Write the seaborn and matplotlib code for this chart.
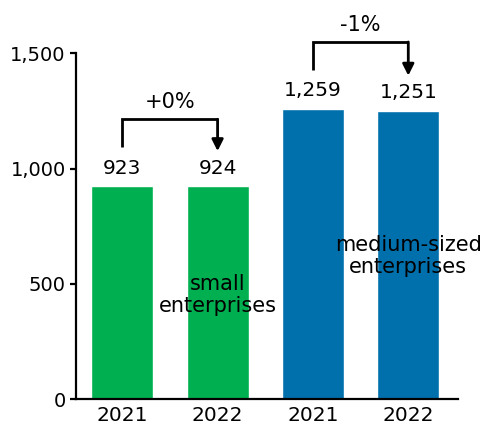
import matplotlib
matplotlib.use('Agg')
import matplotlib.pyplot as plt
import pandas as pd
import seaborn as sns
from matplotlib.ticker import FuncFormatter

# data
groups = ['small', 'small', 'medium', 'medium']
years = ['2021', '2022', '2021', '2022']
values = [923, 924, 1259, 1251]
changes = ['+0%', '-1%']
group_labels = ['small\nenterprises', 'medium-sized\nenterprises']
colors = ['#00B050', '#0070AD']

df = pd.DataFrame({'bar': range(len(values)), 'group': groups, 'year': years, 'value': values})

sns.set_style('white')
plt.rcParams['font.family'] = ['DejaVu Sans']
plt.rcParams['text.color'] = 'black'
plt.rcParams['xtick.color'] = 'black'
plt.rcParams['ytick.color'] = 'black'

fig = plt.figure(figsize=(4.84, 4.26), dpi=100)
ax = fig.add_axes([0.156, 0.0627, 0.79, 0.9373])

sns.barplot(data=df, x='bar', y='value', hue='group', palette=colors, width=0.65,
            dodge=False, legend=False, saturation=1, ax=ax)

ax.set_xlim(-0.49, 3.52)
ax.set_ylim(0, 1731)
ax.set_xlabel('')
ax.set_ylabel('')

# axes styling
for s in ['top', 'right']:
    ax.spines[s].set_visible(False)
for s in ['left', 'bottom']:
    ax.spines[s].set_linewidth(1.6)
    ax.spines[s].set_color('black')
ax.spines['left'].set_bounds(0, 1500)
ax.set_yticks([0, 500, 1000, 1500])
ax.yaxis.set_major_formatter(FuncFormatter(lambda v, p: f'{int(v):,}'))
ax.set_xticks(range(len(years)))
ax.set_xticklabels(years)
ax.tick_params(axis='y', left=True, length=4, width=1.6, pad=3, labelsize=14)
ax.tick_params(axis='x', length=0, pad=5, labelsize=14.5)

# value labels
for i, v in enumerate(values):
    ax.text(i, v + 78, f'{v:,}', ha='center', va='center', fontsize=14.5)

# change brackets
for k, label in enumerate(changes):
    x0, x1 = 2 * k, 2 * k + 1
    v0, v1 = values[x0], values[x1]
    top = max(v0, v1) + 290
    ax.plot([x0, x0, x1], [v0 + 169, top, top], color='black', lw=2,
            solid_joinstyle='miter', solid_capstyle='butt')
    ax.annotate('', xy=(x1, v1 + 152), xytext=(x1, top),
                arrowprops=dict(arrowstyle='-|>', color='black', lw=2,
                                mutation_scale=17, shrinkA=0, shrinkB=0))
    ax.text((x0 + x1) / 2, top + 74, label, ha='center', va='center', fontsize=15)

# group labels
ax.text(1, 452, group_labels[0], ha='center', va='center', fontsize=15, linespacing=1.15)
ax.text(3, 621, group_labels[1], ha='center', va='center', fontsize=15, linespacing=1.15)

fig.savefig('out.png', dpi=100)
